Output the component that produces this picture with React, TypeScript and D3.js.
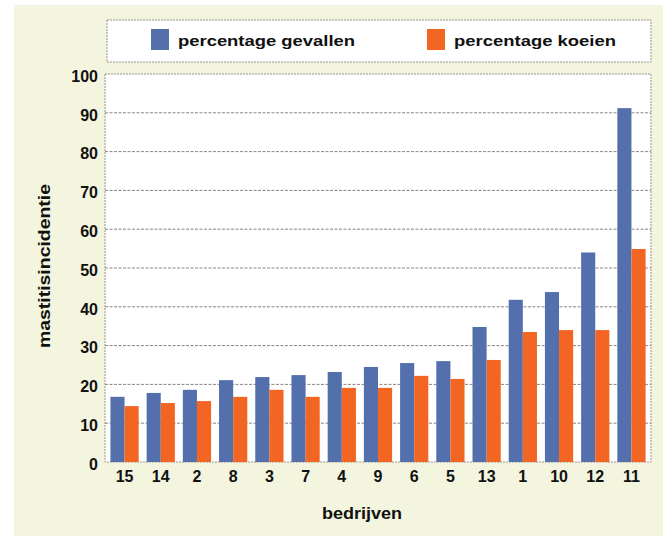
import React, { useEffect, useRef } from "react";
import * as d3 from "d3";

const bedrijven = ["15", "14", "2", "8", "3", "7", "4", "9", "6", "5", "13", "1", "10", "12", "11"];
const gevallen = [16.8, 17.8, 18.6, 21.1, 21.9, 22.4, 23.2, 24.5, 25.5, 26, 34.8, 41.8, 43.8, 54, 91.2];
const koeien = [14.4, 15.2, 15.7, 16.8, 18.6, 16.8, 19.1, 19.1, 22.2, 21.4, 26.3, 33.5, 34, 34, 54.9];
const yTicks = [0, 10, 20, 30, 40, 50, 60, 70, 80, 90, 100];
const seriesNames = ["percentage gevallen", "percentage koeien"];
const colors = ["#5470ac", "#f26522"];

export default function App() {
  const svgRef = useRef(null);

  useEffect(() => {
    const svg = d3.select(svgRef.current);
    svg.selectAll("*").remove();

    const W = 666, H = 538;
    const plot = { left: 105, right: 651, top: 74, bottom: 462 };
    const font = "'Liberation Sans', Arial, sans-serif";

    // achtergrond
    svg.append("rect").attr("width", W).attr("height", H).attr("fill", "#fff");
    svg.append("rect")
      .attr("x", 14).attr("y", 5).attr("width", 649).attr("height", 531)
      .attr("fill", "#f4f5de");

    const y = d3.scaleLinear().domain([0, 100]).range([plot.bottom, plot.top]);
    const x0 = d3.scaleBand().domain(bedrijven).range([plot.left, plot.right])
      .paddingInner(0.22).paddingOuter(0.15);
    const x1 = d3.scaleBand().domain(["0", "1"]).range([0, x0.bandwidth()]);

    svg.append("rect")
      .attr("x", plot.left).attr("y", plot.top)
      .attr("width", plot.right - plot.left).attr("height", plot.bottom - plot.top)
      .attr("fill", "#fff")
      .attr("stroke", "#9a9490").attr("stroke-dasharray", "2,1");

    // rasterlijnen
    svg.append("g").selectAll("line")
      .data(yTicks.filter((t) => t > 0 && t < 100))
      .join("line")
      .attr("x1", plot.left).attr("x2", plot.right)
      .attr("y1", (d) => y(d)).attr("y2", (d) => y(d))
      .attr("stroke", "#8c8682").attr("stroke-dasharray", "3,1.5");

    const yAxis = d3.axisLeft(y).tickValues(yTicks).tickSize(0).tickPadding(7);
    const gy = svg.append("g").attr("transform", `translate(${plot.left},0)`).call(yAxis);
    gy.select(".domain").remove();
    gy.selectAll("text")
      .attr("dy", "0.45em")
      .attr("font-family", font).attr("font-size", 16).attr("font-weight", "bold").attr("fill", "#111");

    // staven
    const rows = bedrijven.map((b, i) => ({ b, vals: [gevallen[i], koeien[i]] }));
    svg.append("g").selectAll("g")
      .data(rows)
      .join("g")
      .attr("transform", (d) => `translate(${x0(d.b)},0)`)
      .selectAll("rect")
      .data((d) => d.vals.map((v, k) => ({ v, k })))
      .join("rect")
      .attr("x", (d) => x1(String(d.k)))
      .attr("width", x1.bandwidth())
      .attr("y", (d) => y(d.v))
      .attr("height", (d) => y(0) - y(d.v))
      .attr("fill", (d) => colors[d.k]);

    const xAxis = d3.axisBottom(x0).tickSize(0).tickPadding(9);
    const gx = svg.append("g").attr("transform", `translate(0,${plot.bottom})`).call(xAxis);
    gx.select(".domain").remove();
    gx.selectAll("text")
      .attr("font-family", font).attr("font-size", 16).attr("font-weight", "bold").attr("fill", "#111");

    // astitels
    svg.append("text")
      .attr("x", 362).attr("y", 519)
      .attr("text-anchor", "middle")
      .attr("textLength", 80).attr("lengthAdjust", "spacingAndGlyphs")
      .attr("font-family", font).attr("font-size", 16).attr("font-weight", "bold").attr("fill", "#111")
      .text("bedrijven");
    svg.append("text")
      .attr("transform", `translate(50,266) rotate(-90)`)
      .attr("text-anchor", "middle")
      .attr("textLength", 164).attr("lengthAdjust", "spacingAndGlyphs")
      .attr("font-family", font).attr("font-size", 16).attr("font-weight", "bold").attr("fill", "#111")
      .text("mastitisincidentie");

    // legenda
    svg.append("rect")
      .attr("x", 107).attr("y", 20).attr("width", 544).attr("height", 42)
      .attr("fill", "#fff").attr("stroke", "#9a9490").attr("stroke-dasharray", "2,1");
    const legendX = [151, 427];
    const legendLen = [177, 162];
    seriesNames.forEach((name, k) => {
      svg.append("rect")
        .attr("x", legendX[k]).attr("y", 29).attr("width", 18).attr("height", 21)
        .attr("fill", colors[k]);
      svg.append("text")
        .attr("x", legendX[k] + 27).attr("y", 46)
        .attr("textLength", legendLen[k]).attr("lengthAdjust", "spacingAndGlyphs")
        .attr("font-family", font).attr("font-size", 15).attr("font-weight", "bold").attr("fill", "#111")
        .text(name);
    });
  }, []);

  return (
    <svg
      ref={svgRef}
      width={666}
      height={538}
      style={{ position: "absolute", left: 0, top: 0, display: "block" }}
    />
  );
}
